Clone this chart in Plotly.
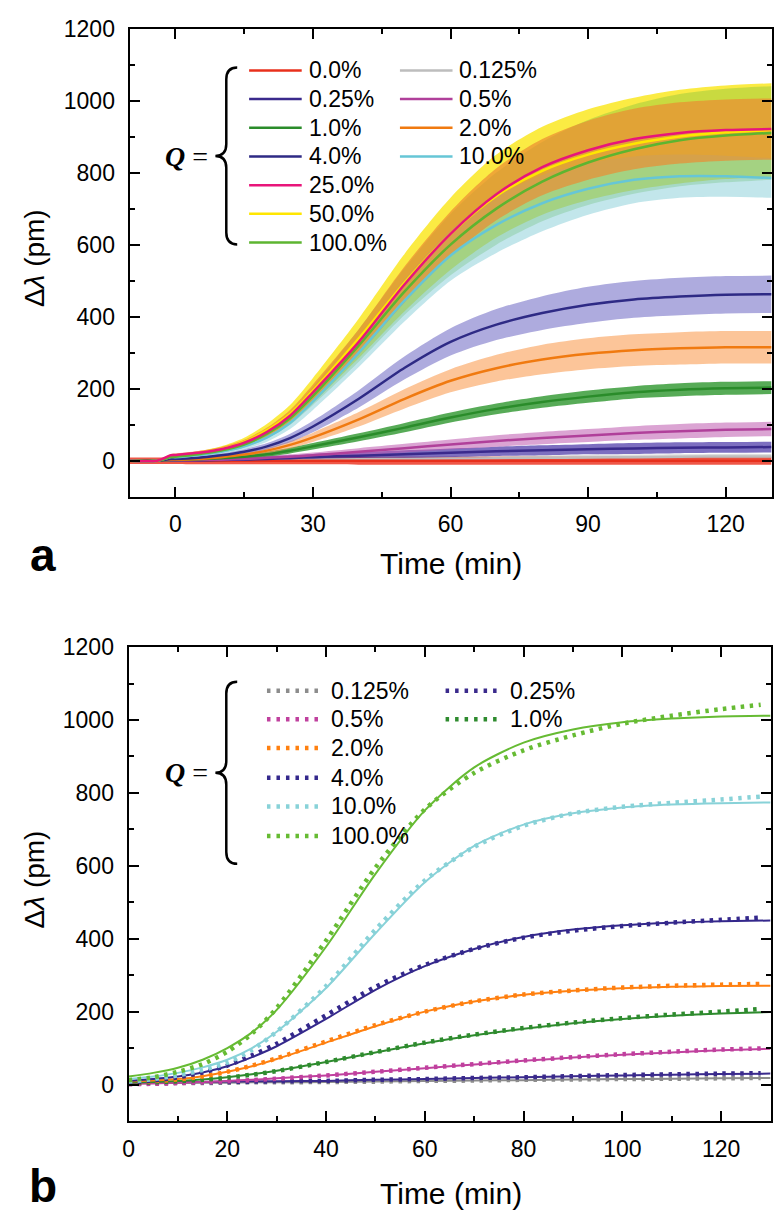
import plotly.graph_objects as go

# ---------------- data: panel a (mean and spread) ----------------
TA = [-10, -4, -1, 0, 5, 10, 15, 20, 25, 30, 40, 50, 60, 70, 80, 90, 100, 110, 120, 130]

A_LABELS = ["0.0%", "0.125%", "0.25%", "0.5%", "1.0%", "2.0%", "4.0%", "10.0%", "25.0%", "50.0%", "100.0%"]

a_q0_mean = [0, 0, 0, 0, 0, 0, 0, 0, 0, 0, 0, 0, 0, 0, 0, 0, 0, 0, 0, 0]
a_q0_sd = [9, 9, 9, 9, 10, 10, 10, 10, 10, 10, 11, 11, 11, 11, 11, 11, 11, 11, 11, 11]
a_q0125_mean = [0, 0, 0, 0, 1, 1, 2, 2, 3, 3, 4, 5, 6, 7, 8, 9, 10, 11, 12, 12]
a_q0125_sd = [4, 4, 4, 4, 4, 4, 5, 5, 5, 5, 6, 6, 6, 6, 7, 7, 7, 7, 7, 7]
a_q025_mean = [0, 0, 0, 0, 1, 2, 3, 5, 7, 10, 14, 18, 22, 26, 29, 32, 34, 36, 37, 38]
a_q025_sd = [3, 3, 3, 3, 4, 5, 6, 7, 8, 9, 10, 11, 12, 13, 14, 14, 15, 15, 15, 15]
a_q05_mean = [0, 0, 1, 1, 2, 3, 5, 8, 11, 15, 25, 35, 45, 55, 63, 70, 77, 82, 86, 88]
a_q05_sd = [3, 3, 3, 3, 4, 4, 5, 6, 7, 8, 10, 12, 14, 16, 17, 18, 19, 20, 20, 20]
a_q1_mean = [0, 0, 2, 2, 4, 7, 11, 18, 28, 40, 65, 92, 120, 144, 163, 178, 190, 197, 201, 203]
a_q1_sd = [3, 3, 3, 3, 4, 5, 6, 7, 8, 9, 11, 13, 14, 15, 16, 17, 17, 18, 18, 18]
a_q2_mean = [0, 0, 3, 3, 5, 10, 17, 28, 44, 65, 115, 172, 222, 257, 281, 297, 307, 312, 315, 315]
a_q2_sd = [2, 2, 3, 3, 4, 5, 6, 8, 10, 13, 20, 27, 32, 37, 41, 43, 44, 45, 45, 45]
a_q4_mean = [0, 0, 5, 5, 8, 15, 25, 40, 63, 95, 172, 258, 330, 378, 410, 433, 448, 456, 461, 462]
a_q4_sd = [2, 2, 3, 3, 4, 5, 7, 9, 12, 16, 24, 32, 38, 43, 47, 50, 51, 52, 52, 52]
a_q10_mean = [0, 0, 10, 10, 16, 25, 40, 65, 105, 165, 300, 445, 570, 655, 715, 755, 780, 790, 790, 785]
a_q10_sd = [2, 2, 4, 4, 5, 6, 8, 12, 17, 24, 40, 58, 70, 78, 78, 72, 65, 60, 57, 55]
a_q25_mean = [0, 0, 15, 16, 22, 32, 50, 80, 125, 190, 330, 490, 630, 740, 815, 862, 893, 910, 918, 921]
a_q25_sd = [2, 2, 4, 4, 5, 6, 8, 12, 16, 22, 35, 50, 62, 72, 78, 82, 84, 85, 85, 85]
a_q50_mean = [0, 0, 12, 13, 20, 32, 52, 85, 130, 195, 340, 495, 630, 735, 805, 850, 880, 900, 912, 918]
a_q50_sd = [2, 2, 4, 5, 6, 8, 12, 18, 25, 35, 55, 80, 100, 115, 122, 126, 128, 130, 130, 130]
a_q100_mean = [0, 0, 10, 11, 18, 28, 45, 75, 118, 180, 320, 470, 600, 700, 775, 828, 865, 890, 903, 910]
a_q100_sd = [2, 2, 4, 4, 5, 6, 9, 13, 18, 25, 45, 65, 85, 100, 110, 118, 124, 128, 130, 130]

# ---------------- data: panel b (measured points and fits) ----------------
TB_DATA = [0, 5, 10, 15, 20, 25, 30, 40, 50, 60, 70, 80, 90, 100, 110, 120, 128]
TB_FIT = [0, 5, 10, 15, 20, 25, 30, 40, 50, 60, 70, 80, 90, 100, 110, 120, 130]

B_LABELS = ["0.125%", "0.25%", "0.5%", "1.0%", "2.0%", "4.0%", "10.0%", "100.0%"]

b_q0125_data = [2, 3, 4, 4, 5, 6, 6, 7, 8, 10, 11, 13, 14, 15, 16, 17, 18]
b_q0125_fit = [3, 4, 4, 5, 5, 6, 6, 7, 8, 10, 11, 12, 14, 15, 16, 17, 18]
b_q025_data = [3, 4, 5, 6, 7, 8, 9, 10, 13, 15, 18, 20, 23, 26, 28, 30, 31]
b_q025_fit = [5, 6, 7, 7, 8, 9, 9, 10, 13, 15, 18, 20, 23, 25, 27, 29, 30]
b_q05_data = [1, 2, 4, 6, 9, 12, 16, 25, 35, 46, 56, 66, 75, 83, 90, 96, 99]
b_q05_fit = [2, 3, 5, 7, 10, 13, 17, 25, 35, 45, 55, 65, 74, 82, 88, 94, 98]
b_q1_data = [4, 6, 9, 13, 19, 27, 37, 62, 89, 115, 137, 155, 170, 182, 192, 200, 207]
b_q1_fit = [5, 7, 10, 14, 20, 28, 38, 62, 88, 113, 135, 153, 168, 180, 189, 195, 199]
b_q2_data = [5, 9, 14, 22, 35, 52, 72, 118, 163, 200, 228, 247, 258, 266, 271, 274, 276]
b_q2_fit = [8, 11, 15, 23, 35, 50, 70, 115, 160, 200, 228, 246, 257, 264, 268, 270, 271]
b_q4_data = [5, 11, 20, 33, 52, 80, 112, 190, 268, 328, 372, 403, 422, 435, 444, 452, 458]
b_q4_fit = [10, 15, 22, 33, 50, 75, 105, 180, 260, 325, 372, 405, 425, 437, 444, 448, 450]
b_q10_data = [8, 15, 25, 40, 60, 95, 145, 270, 425, 560, 652, 710, 744, 762, 773, 782, 790]
b_q10_fit = [15, 22, 32, 47, 68, 100, 145, 265, 415, 555, 655, 713, 744, 760, 768, 772, 774]
b_q100_data = [12, 20, 35, 56, 90, 140, 210, 395, 595, 755, 855, 917, 958, 990, 1012, 1030, 1042]
b_q100_fit = [22, 32, 46, 68, 100, 143, 205, 378, 578, 752, 870, 938, 974, 994, 1004, 1010, 1012]

Y_TICKS = [0, 200, 400, 600, 800, 1000, 1200]
XA_TICKS = [0, 30, 60, 90, 120]
XB_TICKS = [0, 20, 40, 60, 80, 100, 120]

# ---------------- styling ----------------
W, H = 778, 1212
FONT = "Liberation Sans, Arial, sans-serif"
SERIF = "Liberation Serif, Times New Roman, serif"


def fx(p):
    return p / W


def fy(p):
    return 1 - p / H


A_LINE = {"0.0%": "#E8301C", "0.125%": "#BDBDBD", "0.25%": "#3A2A8C", "0.5%": "#B0409A",
          "1.0%": "#2A8C2A", "2.0%": "#F07A10", "4.0%": "#2E2A85", "10.0%": "#66C6D6",
          "25.0%": "#E8157A", "50.0%": "#FFE600", "100.0%": "#5DB530"}
A_FILL = {"0.0%": "rgba(235,45,25,0.8)", "0.125%": "rgba(190,190,190,0.5)",
          "0.25%": "rgba(70,50,165,0.7)", "0.5%": "rgba(190,90,175,0.55)",
          "1.0%": "rgba(45,150,45,0.8)", "2.0%": "rgba(250,150,70,0.55)",
          "4.0%": "rgba(120,115,200,0.6)", "10.0%": "rgba(120,200,210,0.45)",
          "25.0%": "rgba(235,140,50,0.7)", "50.0%": "rgba(250,230,20,0.8)",
          "100.0%": "rgba(110,185,60,0.35)"}
B_COL = {"0.125%": "#8C8C8C", "0.25%": "#3A2A8C", "0.5%": "#C0409E", "1.0%": "#2E8B2E",
         "2.0%": "#FF8010", "4.0%": "#34288C", "10.0%": "#88D2D8", "100.0%": "#66BB33"}

a_series = {
    "0.0%": (a_q0_mean, a_q0_sd), "0.125%": (a_q0125_mean, a_q0125_sd),
    "0.25%": (a_q025_mean, a_q025_sd), "0.5%": (a_q05_mean, a_q05_sd),
    "1.0%": (a_q1_mean, a_q1_sd), "2.0%": (a_q2_mean, a_q2_sd),
    "4.0%": (a_q4_mean, a_q4_sd), "10.0%": (a_q10_mean, a_q10_sd),
    "25.0%": (a_q25_mean, a_q25_sd), "50.0%": (a_q50_mean, a_q50_sd),
    "100.0%": (a_q100_mean, a_q100_sd),
}
b_series = {
    "0.125%": (b_q0125_data, b_q0125_fit), "0.25%": (b_q025_data, b_q025_fit),
    "0.5%": (b_q05_data, b_q05_fit), "1.0%": (b_q1_data, b_q1_fit),
    "2.0%": (b_q2_data, b_q2_fit), "4.0%": (b_q4_data, b_q4_fit),
    "10.0%": (b_q10_data, b_q10_fit), "100.0%": (b_q100_data, b_q100_fit),
}

fig = go.Figure()

band_order = ["0.125%", "0.0%", "0.25%", "0.5%", "1.0%", "2.0%", "4.0%", "50.0%", "100.0%", "10.0%", "25.0%"]
line_order = ["0.125%", "0.0%", "0.25%", "0.5%", "1.0%", "2.0%", "4.0%", "50.0%", "10.0%", "100.0%", "25.0%"]

for name in band_order:
    m, s = a_series[name]
    up = [a + b for a, b in zip(m, s)]
    lo = [a - b for a, b in zip(m, s)]
    fig.add_trace(go.Scatter(x=TA, y=up, mode="lines", line=dict(width=0, shape="spline", smoothing=0.8),
                             showlegend=False, hoverinfo="skip", xaxis="x", yaxis="y"))
    fig.add_trace(go.Scatter(x=TA, y=lo, mode="lines", line=dict(width=0, shape="spline", smoothing=0.8),
                             fill="tonexty", fillcolor=A_FILL[name], showlegend=False,
                             hoverinfo="skip", xaxis="x", yaxis="y"))
for name in line_order:
    m, s = a_series[name]
    fig.add_trace(go.Scatter(x=TA, y=m, mode="lines", name="Q = " + name,
                             line=dict(color=A_LINE[name], width=2.5, shape="spline", smoothing=0.8),
                             showlegend=False, xaxis="x", yaxis="y"))

for name in B_LABELS:
    d, f = b_series[name]
    fig.add_trace(go.Scatter(x=TB_FIT, y=f, mode="lines", name=name + " fit",
                             line=dict(color=B_COL[name], width=2, shape="spline", smoothing=0.8),
                             showlegend=False, xaxis="x2", yaxis="y2"))
    fig.add_trace(go.Scatter(x=TB_DATA, y=d, mode="lines", name=name + " data",
                             line=dict(color=B_COL[name], width=4.5, dash="3.5px,5.5px", shape="spline", smoothing=0.8),
                             showlegend=False, xaxis="x2", yaxis="y2"))

axis_common = dict(showline=True, linewidth=2, linecolor="black", mirror="ticks",
                   ticks="inside", ticklen=10, tickwidth=2, tickcolor="black",
                   showgrid=False, zeroline=False,
                   tickfont=dict(family=FONT, size=23, color="black"))

fig.update_layout(
    width=W, height=H, margin=dict(l=0, r=0, t=0, b=0),
    plot_bgcolor="white", paper_bgcolor="white", showlegend=False,
    xaxis=dict(domain=[fx(124.5), fx(771.5)], range=[-10, 130], tickvals=XA_TICKS, anchor="y",
               minor=dict(ticks="inside", ticklen=5, tickwidth=2, tickcolor="black", dtick=15, tick0=0),
               ticklabelstandoff=6, **axis_common),
    yaxis=dict(domain=[fy(489), fy(15.7)], range=[-100, 1200], tickvals=Y_TICKS, anchor="x",
               minor=dict(ticks="inside", ticklen=5, tickwidth=2, tickcolor="black", dtick=100, tick0=0),
               ticklabelstandoff=8, **axis_common),
    xaxis2=dict(domain=[fx(123.5), fx(770.5)], range=[0, 130], tickvals=XB_TICKS, anchor="y2",
                minor=dict(ticks="inside", ticklen=5, tickwidth=2, tickcolor="black", dtick=10, tick0=0),
                ticklabelstandoff=6, **axis_common),
    yaxis2=dict(domain=[fy(1120), fy(641)], range=[-100, 1200], tickvals=Y_TICKS, anchor="x2",
                minor=dict(ticks="inside", ticklen=5, tickwidth=2, tickcolor="black", dtick=100, tick0=0),
                ticklabelstandoff=8, **axis_common),
)

ann = []
shapes = []


def add_text(x, y, text, size, family=FONT, xanchor="center", angle=0):
    ann.append(dict(x=fx(x), y=fy(y), xref="paper", yref="paper", text=text, showarrow=False,
                    xanchor=xanchor, yanchor="middle", textangle=angle,
                    font=dict(family=family, size=size, color="black")))


# axis titles and panel letters
add_text(448, 556, "Time (min)", 30)
add_text(448, 1193, "Time (min)", 30)
add_text(29, 248, "Δ<i>λ</i> (pm)", 28, angle=-90)
add_text(29, 876, "Δ<i>λ</i> (pm)", 28, angle=-90)
add_text(37, 548, "<b>a</b>", 46)
add_text(37, 1186, "<b>b</b>", 46)


def brace(x_tip, x_end, y_top, y_bot, r=12):
    xm = (x_tip + x_end) / 2
    ym = (y_top + y_bot) / 2
    pts = [
        ("M", [(x_end, y_top)]),
        ("Q", [(xm, y_top), (xm, y_top + r)]),
        ("L", [(xm, ym - r)]),
        ("Q", [(xm, ym), (x_tip, ym)]),
        ("Q", [(xm, ym), (xm, ym + r)]),
        ("L", [(xm, y_bot - r)]),
        ("Q", [(xm, y_bot), (x_end, y_bot)]),
    ]
    path = " ".join(cmd + " " + " ".join(f"{fx(a):.5f},{fy(b):.5f}" for a, b in p) for cmd, p in pts)
    shapes.append(dict(type="path", path=path, xref="paper", yref="paper",
                       line=dict(color="black", width=2.5)))


# legend panel a
brace(211, 233, 55, 234)
add_text(182, 145, "<b><i>Q</i></b> =", 28, family=SERIF)
col1 = ["0.0%", "0.25%", "1.0%", "4.0%", "25.0%", "50.0%", "100.0%"]
col2 = ["0.125%", "0.5%", "2.0%", "10.0%"]
rows_a = [58, 87, 116, 145, 174, 203, 232]
for i, name in enumerate(col1):
    shapes.append(dict(type="line", xref="paper", yref="paper", x0=fx(245), x1=fx(298),
                       y0=fy(rows_a[i]), y1=fy(rows_a[i]), line=dict(color=A_LINE[name], width=2.5)))
    add_text(303, rows_a[i], name, 23, xanchor="left")
for i, name in enumerate(col2):
    shapes.append(dict(type="line", xref="paper", yref="paper", x0=fx(397), x1=fx(450),
                       y0=fy(rows_a[i]), y1=fy(rows_a[i]), line=dict(color=A_LINE[name], width=2.5)))
    add_text(455, rows_a[i], name, 23, xanchor="left")

# legend panel b
brace(211, 233, 676, 860)
add_text(182, 768, "<b><i>Q</i></b> =", 28, family=SERIF)
col1b = ["0.125%", "0.5%", "2.0%", "4.0%", "10.0%", "100.0%"]
col2b = ["0.25%", "1.0%"]
rows_b = [685, 714, 743, 773, 802, 832]
for i, name in enumerate(col1b):
    shapes.append(dict(type="line", xref="paper", yref="paper", x0=fx(263), x1=fx(316),
                       y0=fy(rows_b[i]), y1=fy(rows_b[i]),
                       line=dict(color=B_COL[name], width=4.5, dash="3.5px,6px")))
    add_text(326, rows_b[i], name, 23, xanchor="left")
for i, name in enumerate(col2b):
    shapes.append(dict(type="line", xref="paper", yref="paper", x0=fx(443), x1=fx(496),
                       y0=fy(rows_b[i]), y1=fy(rows_b[i]),
                       line=dict(color=B_COL[name], width=4.5, dash="3.5px,6px")))
    add_text(506, rows_b[i], name, 23, xanchor="left")

fig.update_layout(annotations=ann, shapes=shapes)

fig.write_html("out.html", config={"displayModeBar": False},
               post_script="document.body.style.margin='0';document.body.style.overflow='hidden';")
